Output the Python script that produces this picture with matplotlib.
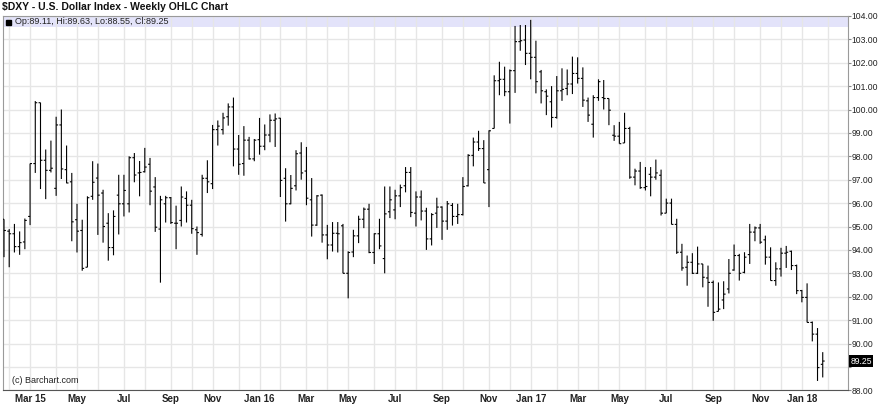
import matplotlib
matplotlib.use("Agg")
import matplotlib.pyplot as plt
import matplotlib.dates as mdates
import matplotlib.transforms as mtransforms
from matplotlib.patches import Rectangle
from matplotlib.ticker import FuncFormatter, FixedLocator
import numpy as np
import pandas as pd

plt.rcParams["font.family"] = ["Liberation Sans", "DejaVu Sans"]

# weekly bars, dated by the Monday of each week
weeks = pd.date_range("2015-01-26", periods=158, freq="W-MON")

opens = [
    95.31, 94.80, 94.69, 94.14, 94.34, 95.43, 97.69, 100.29, 97.83, 97.40,
    96.63, 99.34, 97.43, 96.91, 95.29, 94.83, 93.26, 96.29, 97.07, 96.43,
    95.14, 94.10, 96.34, 95.97, 95.97, 97.94, 97.29, 97.34, 97.66, 96.69,
    94.89, 95.97, 96.23, 95.14, 95.26, 96.20, 95.91, 94.86, 94.66, 97.06,
    96.83, 99.14, 99.14, 99.69, 100.11, 98.31, 97.69, 98.69, 97.89, 98.71,
    98.43, 98.91, 99.54, 99.63, 97.06, 95.97, 96.74, 98.14, 97.37, 96.14,
    95.06, 96.34, 94.64, 94.21, 94.71, 95.03, 93.00, 93.91, 94.60, 95.31,
    95.74, 93.89, 94.69, 93.63, 95.63, 95.71, 96.31, 96.74, 97.31, 95.57,
    96.26, 95.66, 94.47, 95.57, 95.83, 95.23, 95.90, 95.43, 95.51, 96.74,
    98.04, 98.61, 98.33, 97.43, 99.19, 101.23, 101.29, 100.76, 101.66, 102.90,
    102.97, 102.40, 102.23, 101.61, 100.76, 100.33, 99.66, 100.80, 100.90, 101.09,
    101.54, 101.33, 100.37, 99.37, 100.51, 100.51, 100.47, 98.90, 98.86, 98.57,
    99.19, 97.11, 97.37, 96.66, 97.23, 97.11, 97.19, 95.57, 96.00, 95.09,
    93.90, 93.26, 93.47, 93.00, 93.40, 92.80, 92.61, 91.37, 91.86, 92.33,
    93.14, 93.76, 93.04, 93.80, 94.76, 94.94, 94.43, 93.69, 92.69, 93.19,
    93.86, 93.94, 93.33, 92.26, 91.97, 90.90, 90.40, 89.11,
]
highs = [
    95.31, 94.89, 95.11, 94.79, 95.34, 97.69, 100.36, 100.29, 98.29, 98.67,
    99.69, 100.00, 98.46, 97.29, 95.97, 95.29, 96.29, 97.79, 97.69, 96.57,
    95.57, 95.69, 97.21, 97.21, 98.00, 98.14, 97.80, 98.36, 97.93, 97.11,
    96.31, 96.31, 96.26, 95.89, 96.71, 96.50, 96.14, 95.00, 97.21, 97.83,
    99.34, 99.53, 99.86, 100.26, 100.51, 98.91, 99.29, 98.83, 98.74, 99.64,
    99.36, 99.79, 99.83, 99.64, 97.49, 97.20, 98.26, 98.60, 98.40, 97.07,
    96.34, 96.37, 95.07, 95.19, 95.19, 95.11, 93.94, 94.86, 95.46, 95.81,
    95.97, 94.71, 95.33, 96.71, 96.71, 96.57, 96.79, 97.54, 97.54, 96.50,
    96.54, 95.80, 95.57, 96.23, 95.86, 96.09, 96.00, 95.97, 97.11, 98.09,
    98.80, 99.09, 98.69, 99.11, 101.46, 102.04, 101.83, 101.71, 103.57, 103.61,
    103.61, 103.83, 102.94, 101.69, 100.86, 101.00, 101.43, 101.76, 101.71, 102.26,
    102.23, 101.80, 100.51, 100.61, 101.29, 101.26, 100.47, 99.33, 99.47, 99.86,
    99.26, 97.47, 97.76, 97.54, 97.54, 97.86, 97.43, 96.19, 96.19, 95.33,
    94.26, 93.76, 93.86, 94.14, 93.40, 93.33, 92.69, 92.61, 92.66, 93.61,
    94.23, 93.83, 93.90, 95.11, 95.00, 95.11, 94.61, 94.11, 93.47, 94.09,
    94.17, 93.97, 93.37, 92.29, 92.57, 90.94, 90.66, 89.63,
]
lows = [
    93.69, 93.26, 93.89, 93.79, 94.03, 95.06, 97.29, 96.60, 96.17, 97.31,
    96.31, 97.03, 96.85, 94.37, 93.89, 93.11, 93.26, 96.14, 94.64, 94.31,
    93.54, 93.77, 94.66, 95.43, 95.60, 96.89, 96.29, 97.31, 95.91, 94.77,
    92.60, 95.17, 95.11, 94.03, 95.00, 95.17, 94.69, 93.79, 94.57, 96.43,
    96.60, 98.46, 98.93, 99.31, 97.57, 97.21, 97.17, 97.86, 97.79, 98.07,
    98.26, 98.60, 98.40, 96.26, 95.21, 95.95, 96.54, 97.00, 95.91, 94.57,
    95.03, 94.31, 93.60, 93.93, 93.89, 93.00, 91.93, 93.69, 94.29, 94.93,
    93.86, 93.40, 94.03, 93.00, 95.36, 95.31, 95.83, 96.46, 95.40, 95.00,
    95.26, 94.00, 94.19, 94.94, 94.43, 94.86, 95.04, 95.11, 95.47, 96.71,
    97.57, 98.23, 96.86, 95.83, 99.19, 100.61, 100.57, 99.40, 100.71, 102.51,
    101.90, 101.29, 100.69, 100.26, 99.76, 99.23, 99.61, 100.37, 100.61, 100.66,
    101.11, 100.11, 99.47, 98.80, 100.37, 100.00, 99.33, 98.66, 98.54, 98.57,
    97.04, 96.76, 96.61, 96.54, 96.29, 97.00, 95.47, 95.57, 95.09, 93.83,
    93.11, 92.47, 92.97, 92.97, 92.40, 91.57, 90.97, 91.37, 91.47, 92.14,
    93.11, 92.69, 93.00, 93.40, 94.37, 94.26, 93.37, 92.69, 92.47, 92.86,
    93.23, 93.14, 92.11, 91.76, 90.90, 90.09, 88.40, 88.55,
]
closes = [
    94.83, 94.69, 94.14, 94.31, 95.26, 97.69, 100.29, 97.83, 97.40, 97.49,
    99.34, 97.46, 96.86, 95.20, 94.80, 93.21, 96.23, 96.89, 96.34, 95.00,
    94.10, 95.43, 95.97, 96.54, 97.94, 97.20, 97.31, 97.54, 96.51, 94.97,
    96.14, 96.23, 95.17, 95.14, 96.26, 95.91, 94.91, 94.74, 97.06, 96.91,
    99.14, 99.29, 99.64, 100.11, 98.31, 97.66, 98.69, 97.89, 98.69, 98.43,
    98.91, 99.54, 99.60, 96.97, 95.97, 96.63, 98.11, 97.29, 96.21, 95.06,
    96.31, 94.64, 94.21, 94.71, 94.69, 93.00, 93.89, 94.60, 95.31, 95.74,
    93.89, 94.69, 94.17, 95.54, 96.14, 96.31, 96.66, 97.31, 95.60, 96.26,
    95.66, 94.47, 95.51, 95.83, 95.23, 95.97, 95.43, 95.51, 96.71, 98.04,
    98.61, 98.33, 96.86, 99.09, 101.23, 101.29, 100.76, 101.66, 102.90, 102.94,
    102.40, 102.23, 101.19, 100.80, 100.57, 99.66, 100.80, 100.86, 101.09, 101.54,
    101.33, 100.40, 99.76, 100.51, 101.19, 100.47, 99.97, 98.86, 98.54, 99.19,
    97.11, 97.37, 96.66, 96.71, 97.11, 97.29, 95.57, 96.00, 95.09, 93.90,
    93.23, 93.47, 93.00, 93.40, 92.83, 92.61, 91.33, 91.47, 92.11, 93.00,
    93.76, 93.00, 93.69, 94.76, 94.94, 94.33, 93.69, 92.69, 93.19, 93.86,
    93.90, 93.33, 92.26, 91.97, 90.90, 90.40, 88.97, 89.25,
]

last_label = "Op:89.11, Hi:89.63, Lo:88.55, Cl:89.25"

x = mdates.date2num(weeks)

fig = plt.figure(figsize=(8.79, 4.05), dpi=100)
ax = fig.add_axes([3 / 879, 1 - 390.3 / 405, 845 / 879, (390.3 - 15.9) / 405])

# lavender band behind the legend line
ax.axhspan(103.51, 104, color="#e3e3fa", lw=0, zorder=0)

# OHLC bars
tick = 2.6
ax.vlines(x, lows, highs, color="black", lw=0.8, snap=False, zorder=3)
ax.hlines(opens, x - tick, x, color="black", lw=0.8, snap=False, zorder=3)
ax.hlines(closes, x, x + tick, color="black", lw=0.8, snap=False, zorder=3)

# axis ranges
ax.set_ylim(88, 104)
ax.set_xlim(mdates.date2num(pd.Timestamp("2015-01-24 16:00")),
            mdates.date2num(pd.Timestamp("2018-03-03 22:00")))

# month grid at the first weekly bar of each month
all_mondays = pd.date_range("2015-01-26", "2018-03-05", freq="W-MON")
firsts = [d for i, d in enumerate(all_mondays)
          if i > 0 and d.month != all_mondays[i - 1].month]
labeled = [d for d in firsts if d.month % 2 == 1]
labels = [d.strftime("%b %y") if d.month == 1 or d == labeled[0] else d.strftime("%b")
          for d in labeled]

ax.xaxis.set_major_locator(FixedLocator(mdates.date2num(labeled)))
ax.xaxis.set_minor_locator(FixedLocator(mdates.date2num(firsts)))
ax.set_xticklabels(labels)
ax.tick_params(axis="x", which="both", length=0, pad=3, labelsize=7, labelcolor="#222222")
for t in ax.get_xticklabels():
    t.set_fontweight("bold")

ax.set_yticks(np.arange(88, 105, 1))
ax.yaxis.tick_right()
ax.yaxis.set_major_formatter(FuncFormatter(lambda v, p: "" if abs(v - 89) < 0.01 else "%.2f" % v))
ax.tick_params(axis="y", length=2, width=0.8, color="#888888", pad=0.8,
               labelsize=6.2, labelcolor="#222222")

ax.grid(axis="x", which="both", color="#e6e6e6", lw=1, zorder=1)
ax.grid(axis="y", which="major", color="#e6e6e6", lw=1, zorder=1)
ax.set_axisbelow(True)

for side in ["left", "top", "right"]:
    ax.spines[side].set_color("#9a9a9a")
    ax.spines[side].set_linewidth(0.8)
ax.spines["bottom"].set_color("#555555")
ax.spines["bottom"].set_linewidth(0.8)

# last price marker on the right axis
trans = mtransforms.blended_transform_factory(ax.transAxes, ax.transData)
ax.text(1.003, closes[-1], "%.2f" % closes[-1], transform=trans, ha="left", va="center",
        fontsize=6.2, color="white",
        bbox=dict(facecolor="black", edgecolor="none", pad=0.8))

# title, legend line and credit
fig.text(2 / 879, 1 - 7.5 / 405, "\\$DXY - U.S. Dollar Index - Weekly OHLC Chart",
         fontsize=7.5, fontweight="bold", va="center", ha="left", color="#111111")
fig.add_artist(Rectangle((6 / 879, 1 - 25 / 405), 5 / 879, 5 / 405,
                         transform=fig.transFigure, color="black"))
fig.text(15 / 879, 1 - 22 / 405, last_label, fontsize=6.5, va="center", ha="left",
         color="#222222")
ax.text(12 / 879, 1 - 380.5 / 405, "(c) Barchart.com", transform=fig.transFigure,
        fontsize=6.5, va="center", ha="left", color="#222222", zorder=5)

fig.savefig("out.png", dpi=100)
